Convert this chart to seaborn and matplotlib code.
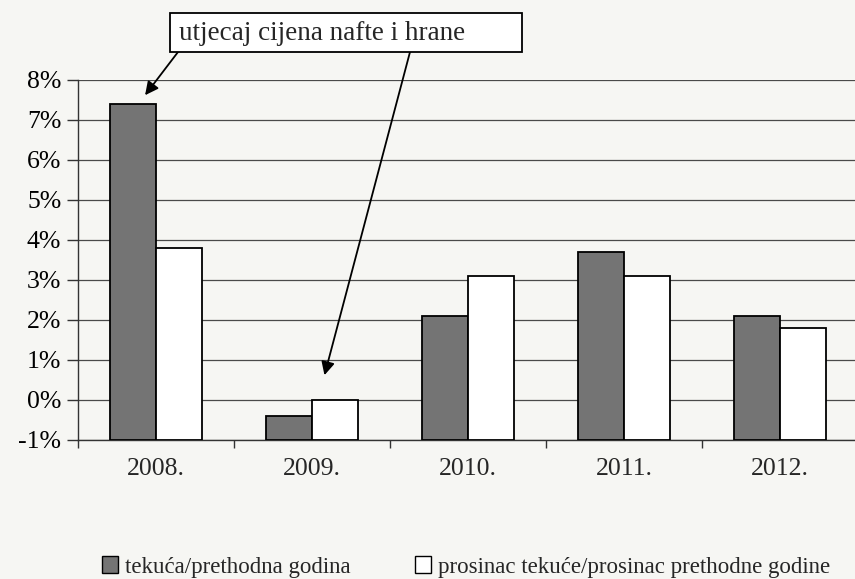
import matplotlib
matplotlib.use("Agg")
import matplotlib.pyplot as plt
from matplotlib.patches import Rectangle, Patch
from matplotlib.ticker import FixedLocator
import seaborn as sns
import pandas as pd

# ---- data ----
years = ["2008.", "2009.", "2010.", "2011.", "2012."]
series_names = ["tekuća/prethodna godina", "prosinac tekuće/prosinac prethodne godine"]
annual = [7.4, -0.4, 2.1, 3.7, 2.1]
december = [3.8, 0.0, 3.1, 3.1, 1.8]
y_ticks = [-1, 0, 1, 2, 3, 4, 5, 6, 7, 8]
y_tick_labels = ["-1%", "0%", "1%", "2%", "3%", "4%", "5%", "6%", "7%", "8%"]
annotation_text = "utjecaj cijena nafte i hrane"

df = pd.DataFrame({
    "year": years * 2,
    "series": [series_names[0]] * len(years) + [series_names[1]] * len(years),
    "value": annual + december,
})

sns.set_theme(style="white")
plt.rcParams['font.family'] = ['Liberation Serif', 'DejaVu Serif']

BG = "#f6f6f3"
W, H = 855, 579
fig = plt.figure(figsize=(W / 100, H / 100), dpi=100)
fig.patch.set_facecolor(BG)
ax = fig.add_axes([78 / W, 1 - 440 / H, (858 - 78) / W, (440 - 80) / H])
ax.set_facecolor(BG)

colors = ["#747474", "white"]
sns.barplot(data=df, x="year", y="value", hue="series", palette=colors,
            edgecolor="black", linewidth=1.3, width=0.59, ax=ax,
            legend=False, zorder=3)

# bars originate at the bottom of the axis (-1 %), as in the original
for cont in ax.containers:
    for p in cont:
        v = p.get_y() + p.get_height()
        p.set_y(-1)
        p.set_height(v + 1)

ax.set_ylim(-1, 8)
ax.set_xlim(-0.5, 4.5)
ax.set_yticks(y_ticks)
ax.set_yticklabels(y_tick_labels)
ax.set_xlabel("")
ax.set_ylabel("")
ax.yaxis.grid(True, color="#4a4a4a", linewidth=0.9, zorder=0)
ax.set_axisbelow(True)

for s in ["top", "right"]:
    ax.spines[s].set_visible(False)
for s in ["left", "bottom"]:
    ax.spines[s].set_color("#333333")
    ax.spines[s].set_linewidth(1.0)

ax.tick_params(axis="y", which="major", direction="out", length=8, width=1,
               colors="#333333", labelcolor="black", labelsize=18.5, pad=4, left=True)
ax.tick_params(axis="x", which="major", length=0, labelsize=18.5, pad=13, bottom=True)
ax.xaxis.set_minor_locator(FixedLocator([-0.5, 0.5, 1.5, 2.5, 3.5, 4.5]))
ax.tick_params(axis="x", which="minor", direction="out", length=6, width=1,
               colors="#333333", bottom=True)

# annotation box with two arrows
fig.add_artist(Rectangle((170 / W, 1 - 52 / H), 352 / W, 39 / H,
                         transform=fig.transFigure, facecolor="white",
                         edgecolor="black", linewidth=1.3, zorder=5))
fig.text(179 / W, 1 - 34 / H, annotation_text, fontsize=19.5, ha="left",
         va="center", zorder=6)
arrow_kw = dict(arrowstyle="-|>", color="black", lw=1.3, mutation_scale=20,
                shrinkA=0, shrinkB=0)
ax.annotate("", xy=(-0.07, 7.62), xycoords="data",
            xytext=(178, H - 52), textcoords="figure pixels",
            arrowprops=arrow_kw, annotation_clip=False)
ax.annotate("", xy=(1.08, 0.62), xycoords="data",
            xytext=(410, H - 52), textcoords="figure pixels",
            arrowprops=arrow_kw, annotation_clip=False)

handles = [Patch(facecolor=c, edgecolor="black", linewidth=1.0) for c in colors]
fig.legend(handles, series_names, loc="center", ncol=2,
           bbox_to_anchor=(466 / W, 1 - 567 / H), frameon=False,
           fontsize=16.5, handlelength=0.7, handleheight=0.7,
           handletextpad=0.3, columnspacing=2.8)

fig.savefig("out.png", dpi=100, facecolor=BG)
